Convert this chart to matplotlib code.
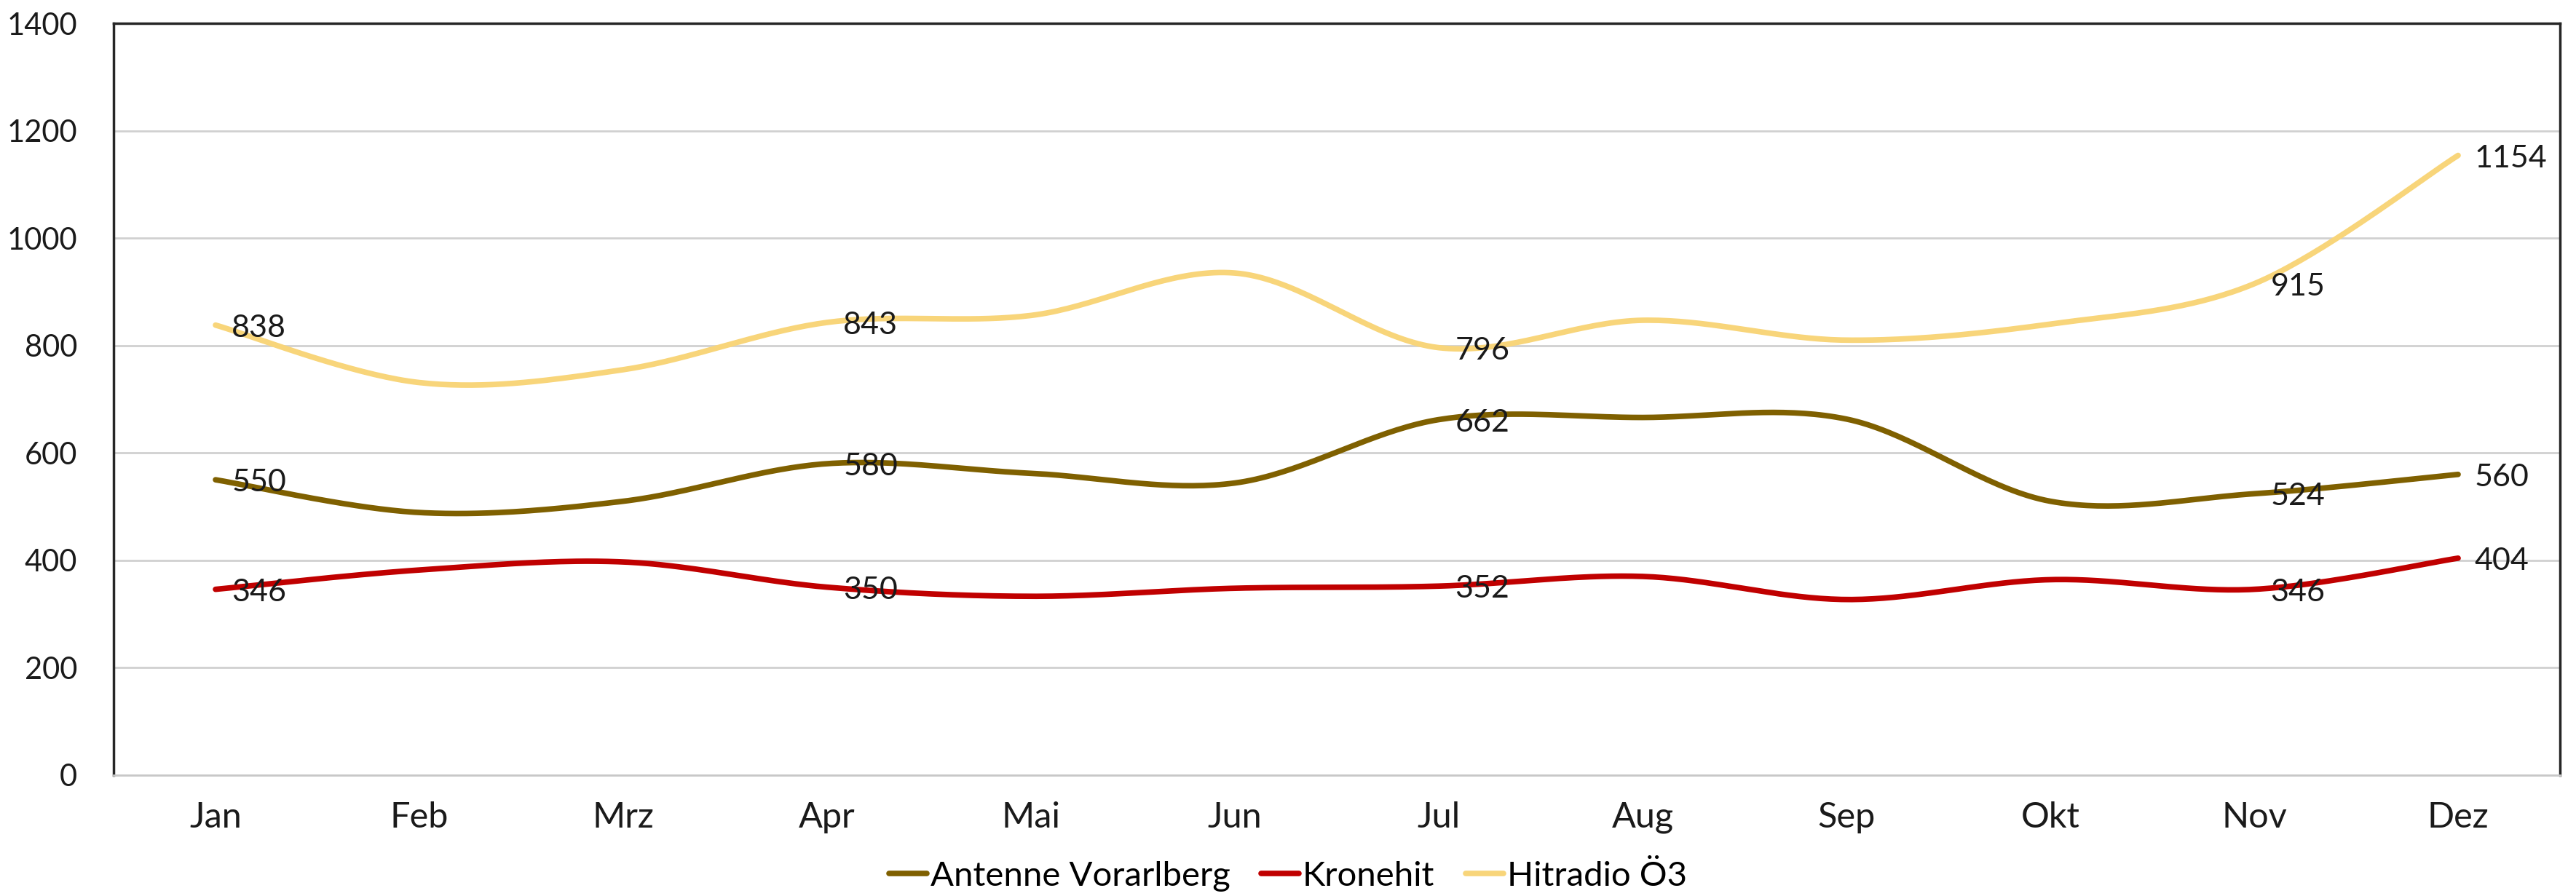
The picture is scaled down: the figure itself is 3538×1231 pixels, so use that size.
import numpy as np
import matplotlib
matplotlib.use("Agg")
import matplotlib.pyplot as plt
from matplotlib.lines import Line2D

months = ["Jan", "Feb", "Mrz", "Apr", "Mai", "Jun", "Jul", "Aug", "Sep", "Okt", "Nov", "Dez"]
antenne = [550, 489, 510, 580, 562, 544, 662, 666, 663, 510, 524, 560]
kronehit = [346, 382, 397, 350, 333, 348, 352, 370, 327, 364, 346, 404]
hitradio = [838, 731, 755, 843, 856, 935, 796, 847, 810, 840, 915, 1154]
labeled_idx = [0, 3, 6, 10, 11]

series_names = ["Antenne Vorarlberg", "Kronehit", "Hitradio Ö3"]
colors = ["#7F6000", "#C00000", "#F8D57A"]

FONT = ["Lato", "DejaVu Sans"]
plt.rcParams['font.family'] = FONT


def smooth(x, y, n=40):
    # Catmull-Rom style bezier smoothing through all points (like spreadsheet smoothed lines)
    x = np.asarray(x, float)
    y = np.asarray(y, float)
    px = np.concatenate([[x[0]], x, [x[-1]]])
    py = np.concatenate([[y[0]], y, [y[-1]]])
    xs, ys = [], []
    t = np.linspace(0, 1, n)
    for i in range(1, len(px) - 2):
        p0 = np.array([px[i], py[i]])
        p3 = np.array([px[i + 1], py[i + 1]])
        c1 = p0 + (np.array([px[i + 1], py[i + 1]]) - np.array([px[i - 1], py[i - 1]])) / 6
        c2 = p3 - (np.array([px[i + 2], py[i + 2]]) - np.array([px[i], py[i]])) / 6
        b = ((1 - t) ** 3)[:, None] * p0 + (3 * (1 - t) ** 2 * t)[:, None] * c1 + \
            (3 * (1 - t) * t ** 2)[:, None] * c2 + (t ** 3)[:, None] * p3
        xs.append(b[:, 0])
        ys.append(b[:, 1])
    return np.concatenate(xs), np.concatenate(ys)


fig = plt.figure(figsize=(35.38, 12.31), dpi=100)
ax = fig.add_axes([0.0441, 0.1349, 0.9497, 0.8391])

xpos = np.arange(len(months))
handles = []
for name, vals, col in zip(series_names, [antenne, kronehit, hitradio], colors):
    sx, sy = smooth(xpos, vals)
    ax.plot(sx, sy, color=col, lw=5.5, solid_capstyle='round', zorder=3)
    handles.append(Line2D([0], [0], color=col, lw=5.5, solid_capstyle='round'))
    for i in labeled_idx:
        ax.annotate(str(vals[i]), (xpos[i], vals[i]), xytext=(16, -3), textcoords='offset points',
                    ha='left', va='center', fontsize=31, color='#1a1a1a', zorder=4)

ax.set_xlim(-0.5, len(months) - 0.5)
ax.set_ylim(0, 1400)
ax.set_yticks(np.arange(0, 1401, 200))
ax.set_xticks(xpos)
ax.set_xticklabels(months)
ax.tick_params(axis='both', length=0, colors='#1a1a1a')
ax.tick_params(axis='y', pad=36, labelsize=30)
ax.tick_params(axis='x', pad=26, labelsize=35)
ax.grid(axis='y', color='#D0D0D0', lw=2)
ax.set_axisbelow(True)
for s in ['left', 'top', 'right']:
    ax.spines[s].set_color('#262626')
    ax.spines[s].set_linewidth(2.5)
ax.spines['bottom'].set_color('#C8C8C8')
ax.spines['bottom'].set_linewidth(2)

fig.legend(handles, series_names, loc='center', bbox_to_anchor=(0.5, 0.022), ncol=3, frameon=False,
           fontsize=34, handlelength=1.1, handletextpad=0.1, columnspacing=0.9)

fig.savefig("out.png", dpi=100, facecolor='white')
